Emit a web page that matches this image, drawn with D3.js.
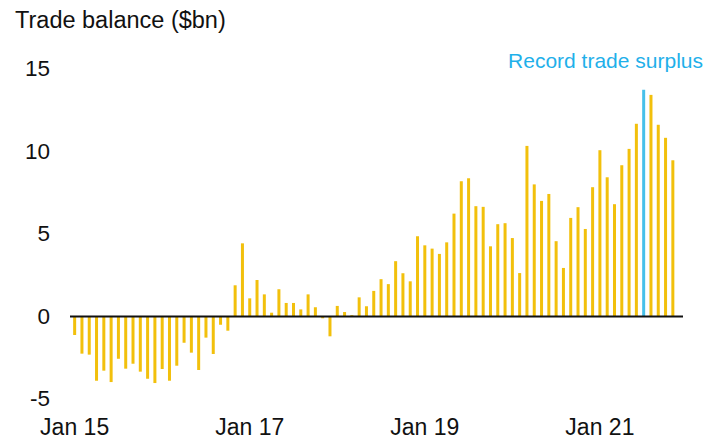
<!DOCTYPE html>
<html>
<head>
<meta charset="utf-8">
<script src="https://cdn.jsdelivr.net/npm/d3@7"></script>
<style>
  html, body { margin: 0; padding: 0; background: #ffffff; }
  svg { display: block; font-family: "Liberation Sans", Arial, sans-serif; }
</style>
</head>
<body>
<div id="chart"></div>
<script>
// Monthly trade balance ($bn), Jan 2015 – Nov 2021
const startYear = 2015;
const values = [
  -1.15, -2.28, -2.34, -3.92, -3.31, -4.00, -2.59, -3.19, -2.89, -3.37, -3.80, -4.06,
  -3.21, -3.92, -3.01, -1.62, -2.22, -3.27, -1.31, -2.30, -0.53, -0.89, 1.86, 4.40,
  1.07, 2.18, 1.31, 0.20, 1.62, 0.79, 0.79, 0.40, 1.31, 0.53, -0.14, -1.23,
  0.61, 0.24, 0.05, 1.13, 0.59, 1.52, 2.23, 1.93, 3.32, 2.59, 2.10, 4.83,
  4.28, 4.08, 3.76, 4.46, 6.20, 8.16, 8.34, 6.65, 6.61, 4.22, 5.56, 5.62,
  4.72, 2.60, 10.30, 7.97, 6.97, 7.39, 4.53, 2.91, 5.94, 6.59, 5.27, 7.80,
  10.04, 8.40, 6.77, 9.13, 10.12, 11.64, 13.70, 13.39, 11.58, 10.79, 9.43
];
const months = values.map((v, i) => {
  const y = startYear + Math.floor(i / 12);
  const m = i % 12;
  return y + "-" + String(m + 1).padStart(2, "0");
});
const highlightMonth = "2021-07";
const xTickMonths = ["2015-01", "2017-01", "2019-01", "2021-01"];
const xTickLabels = ["Jan 15", "Jan 17", "Jan 19", "Jan 21"];
const yTicks = [-5, 0, 5, 10, 15];
const yTickLabels = ["-5", "0", "5", "10", "15"];
const titleText = "Trade balance ($bn)";
const annotationText = "Record trade surplus";

const W = 707, H = 441;
const svg = d3.select("#chart").append("svg").attr("width", W).attr("height", H);

const x = d3.scaleBand().domain(months).range([71, 676.5]).paddingInner(0.59).paddingOuter(0.295);
const y = d3.scaleLinear().domain([0, 15]).range([316, 68.3]);

const yellow = "#f2c00c";
const blue = "#47c0ea";

// bars
svg.append("g").selectAll("rect").data(values).join("rect")
  .attr("x", (d, i) => x(months[i]) + x.bandwidth() / 2 - 1.5)
  .attr("width", 3)
  .attr("y", d => d >= 0 ? y(d) : y(0))
  .attr("height", d => Math.abs(y(d) - y(0)))
  .attr("fill", (d, i) => months[i] === highlightMonth ? blue : yellow);

// zero line
svg.append("line")
  .attr("x1", 70).attr("x2", 683)
  .attr("y1", y(0) + 0.5).attr("y2", y(0) + 0.5)
  .attr("stroke", "#111").attr("stroke-width", 2);

// y axis (labels only)
const yAxis = d3.axisLeft(y).tickValues(yTicks).tickSize(0).tickPadding(0)
  .tickFormat(d => yTickLabels[yTicks.indexOf(d)]);
const gy = svg.append("g").attr("transform", "translate(50,0)").call(yAxis);
gy.select(".domain").remove();
gy.selectAll("text").attr("font-size", "22.5px").attr("fill", "#111")
  .attr("font-family", "Liberation Sans, Arial, sans-serif");

// x axis (labels only)
const xAxis = d3.axisBottom(x).tickValues(xTickMonths).tickSize(0).tickPadding(0)
  .tickFormat((d) => xTickLabels[xTickMonths.indexOf(d)]);
const gx = svg.append("g").attr("transform", "translate(0,435)").call(xAxis);
gx.select(".domain").remove();
gx.selectAll("text").attr("dy", 0).attr("y", 0).attr("font-size", "23px").attr("fill", "#111")
  .attr("font-family", "Liberation Sans, Arial, sans-serif");

// title
svg.append("text").attr("x", 15).attr("y", 28.3)
  .attr("font-size", "23.5px").attr("fill", "#111").text(titleText);

// annotation
svg.append("text").attr("x", 703).attr("y", 68.3).attr("text-anchor", "end")
  .attr("font-size", "21px").attr("fill", "#1fb0ea").text(annotationText);
</script>
</body>
</html>
